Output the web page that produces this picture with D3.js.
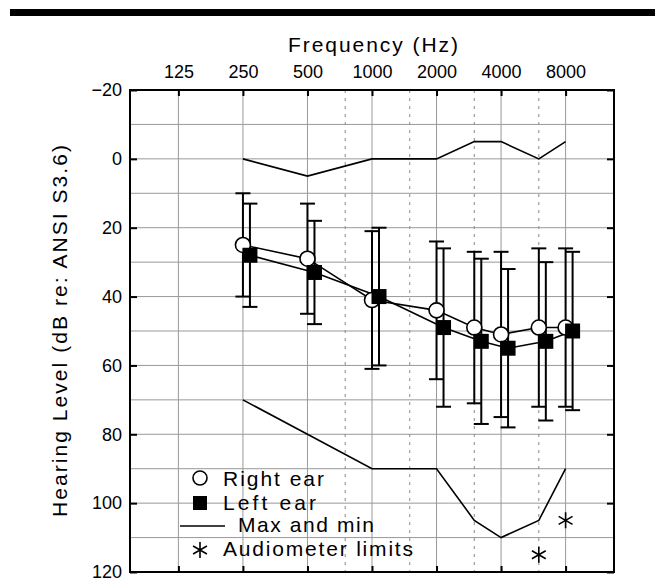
<!DOCTYPE html>
<html>
<head>
<meta charset="utf-8">
<script src="https://cdn.jsdelivr.net/npm/d3@7"></script>
<style>
    body { margin: 0; background: white; }
    text { font-family: "Liberation Sans", Arial, sans-serif; fill: black; }
</style>
</head>
<body>
<div id="audiogram"></div>
<script>

// frequencies used for the measurements
let freqs = [250, 500, 1000, 2000, 3000, 4000, 6000, 8000];

// right ear (open circles): mean and error bar ends
let rightMean = [25, 29, 41, 44, 49, 51, 49, 49];
let rightTop = [10, 13, 21, 24, 27, 27, 26, 26];
let rightBottom = [40, 45, 61, 64, 71, 75, 72, 72];

// left ear (filled squares)
let leftMean = [28, 33, 40, 49, 53, 55, 53, 50];
let leftTop = [13, 18, 20, 26, 29, 32, 30, 27];
let leftBottom = [43, 48, 60, 72, 77, 78, 76, 73];

// max and min lines
let minLine = [0, 5, 0, 0, -5, -5, 0, -5];
let maxLine = [70, 80, 90, 90, 105, 110, 105, 90];

// audiometer limits
let limitFreqs = [6000, 8000];
let limitLevels = [115, 105];

// axis ticks
let octaveTicks = [125, 250, 500, 1000, 2000, 4000, 8000];
let halfOctaveTicks = [750, 1500, 3000, 6000];
let levelTicks = [-20, 0, 20, 40, 60, 80, 100, 120];
let gridLevels = d3.range(-20, 121, 10);

// legend entries
let legendLabels = ["Right ear", "Left ear", "Max and min", "Audiometer limits"];

class AudiogramVis {

    constructor(parentElement) {
        this.parentElement = parentElement;
        this.initVis();
    }

    initVis () {
        let vis = this;

        vis.width = 655;
        vis.height = 587;
        vis.plot = {left: 130, right: 614, top: 90, bottom: 572};

        vis.svg = d3.select("#" + vis.parentElement).append("svg")
            .attr("width", vis.width)
            .attr("height", vis.height);

        // black rule at the very top
        vis.svg.append("rect")
            .attr("x", 10).attr("y", 9)
            .attr("width", vis.width - 10).attr("height", 7)
            .attr("fill", "black");

        // scales (log2 in frequency, 3/4 octave padding each side)
        vis.x = d3.scaleLog().base(2)
            .domain([125 / Math.pow(2, 0.75), 8000 * Math.pow(2, 0.75)])
            .range([vis.plot.left, vis.plot.right]);

        vis.y = d3.scaleLinear()
            .domain([-20, 120])
            .range([vis.plot.top, vis.plot.bottom]);

        vis.leftShift = 7;

        vis.drawGrid();
        vis.drawAxes();
        vis.updateVis();
        vis.drawLegend();
    }

    drawGrid () {
        let vis = this;

        vis.svg.append("g").selectAll("line.h-grid")
            .data(gridLevels)
            .enter().append("line")
            .attr("class", "h-grid")
            .attr("x1", vis.plot.left).attr("x2", vis.plot.right)
            .attr("y1", d => vis.y(d)).attr("y2", d => vis.y(d))
            .attr("stroke", "#999").attr("stroke-width", 1);

        vis.svg.append("g").selectAll("line.v-grid")
            .data(octaveTicks)
            .enter().append("line")
            .attr("class", "v-grid")
            .attr("x1", d => vis.x(d)).attr("x2", d => vis.x(d))
            .attr("y1", vis.plot.top).attr("y2", vis.plot.bottom)
            .attr("stroke", "#999").attr("stroke-width", 1);

        vis.svg.append("g").selectAll("line.v-dash")
            .data(halfOctaveTicks)
            .enter().append("line")
            .attr("class", "v-dash")
            .attr("x1", d => vis.x(d)).attr("x2", d => vis.x(d))
            .attr("y1", vis.plot.top).attr("y2", vis.plot.bottom)
            .attr("stroke", "#888").attr("stroke-width", 1)
            .attr("stroke-dasharray", "3,5");
    }

    drawAxes () {
        let vis = this;
        let fmt = d3.format("d");

        let styleAxis = (g) => {
            g.select(".domain").remove();
            g.selectAll(".tick line").attr("stroke", "black").attr("stroke-width", 2);
            g.selectAll(".tick text")
                .style("font-family", "Liberation Sans, Arial, sans-serif")
                .style("font-size", "18px")
                .attr("fill", "black");
        };

        vis.svg.append("g")
            .attr("transform", `translate(${vis.plot.left}, 0)`)
            .call(d3.axisLeft(vis.y).tickValues(levelTicks).tickSizeInner(-7).tickSizeOuter(0).tickPadding(8))
            .call(styleAxis);

        vis.svg.append("g")
            .attr("transform", `translate(${vis.plot.right}, 0)`)
            .call(d3.axisRight(vis.y).tickValues(levelTicks).tickSizeInner(-7).tickSizeOuter(0).tickFormat(""))
            .call(styleAxis);

        vis.svg.append("g")
            .attr("transform", `translate(0, ${vis.plot.top})`)
            .call(d3.axisTop(vis.x).tickValues(octaveTicks).tickFormat(fmt).tickSizeInner(-6).tickSizeOuter(0).tickPadding(12))
            .call(styleAxis);

        vis.svg.append("g")
            .attr("transform", `translate(0, ${vis.plot.bottom})`)
            .call(d3.axisBottom(vis.x).tickValues(octaveTicks).tickSizeInner(-6).tickSizeOuter(0).tickFormat(""))
            .call(styleAxis);

        // frame
        vis.svg.append("rect")
            .attr("x", vis.plot.left).attr("y", vis.plot.top)
            .attr("width", vis.plot.right - vis.plot.left)
            .attr("height", vis.plot.bottom - vis.plot.top)
            .attr("fill", "none").attr("stroke", "black").attr("stroke-width", 2);

        // axis titles
        vis.svg.append("text")
            .attr("x", 288).attr("y", 52)
            .attr("textLength", 170).attr("lengthAdjust", "spacing")
            .style("font-size", "21px")
            .text("Frequency (Hz)");

        vis.svg.append("text")
            .attr("transform", "translate(67, 517) rotate(-90)")
            .attr("textLength", 372).attr("lengthAdjust", "spacing")
            .style("font-size", "21px")
            .text("Hearing Level (dB re: ANSI S3.6)");
    }

    updateVis () {
        let vis = this;

        // max / min lines
        let line = d3.line().x(d => vis.x(d.f)).y(d => vis.y(d.v));
        [minLine, maxLine].forEach(arr => {
            vis.svg.append("path")
                .datum(freqs.map((f, i) => ({f: f, v: arr[i]})))
                .attr("d", line)
                .attr("fill", "none").attr("stroke", "black").attr("stroke-width", 1.6);
        });

        // ear series
        let series = [
            {name: "right", mean: rightMean, top: rightTop, bottom: rightBottom, shift: 0},
            {name: "left", mean: leftMean, top: leftTop, bottom: leftBottom, shift: vis.leftShift}
        ];

        series.forEach(s => {
            let pts = freqs.map((f, i) => ({
                x: vis.x(f) + s.shift, mean: s.mean[i], top: s.top[i], bottom: s.bottom[i]
            }));

            let g = vis.svg.append("g").attr("class", s.name + "-bars");

            g.selectAll("line.whisker").data(pts).enter().append("line")
                .attr("x1", d => d.x).attr("x2", d => d.x)
                .attr("y1", d => vis.y(d.top)).attr("y2", d => vis.y(d.bottom))
                .attr("stroke", "black").attr("stroke-width", 2);

            ["top", "bottom"].forEach(k => {
                g.selectAll("line.cap-" + k).data(pts).enter().append("line")
                    .attr("x1", d => d.x - 7.5).attr("x2", d => d.x + 7.5)
                    .attr("y1", d => vis.y(d[k])).attr("y2", d => vis.y(d[k]))
                    .attr("stroke", "black").attr("stroke-width", 2);
            });

            s.pts = pts;
        });

        // connecting lines
        let meanLine = d3.line().x(d => d.x).y(d => vis.y(d.mean));
        series.forEach(s => {
            vis.svg.append("path")
                .datum(s.pts)
                .attr("d", meanLine)
                .attr("fill", "none").attr("stroke", "black").attr("stroke-width", 1.6);
        });

        // markers
        vis.svg.append("g").selectAll("circle").data(series[0].pts).enter().append("circle")
            .attr("cx", d => d.x).attr("cy", d => vis.y(d.mean)).attr("r", 7.5)
            .attr("fill", "white").attr("stroke", "black").attr("stroke-width", 1.6);

        vis.svg.append("g").selectAll("rect").data(series[1].pts).enter().append("rect")
            .attr("x", d => d.x - 7.5).attr("y", d => vis.y(d.mean) - 7.5)
            .attr("width", 15).attr("height", 15)
            .attr("fill", "black");

        // audiometer limits
        vis.asterisk = d3.symbol().type(d3.symbolAsterisk).size(180);
        vis.svg.append("g").selectAll("path").data(limitFreqs).enter().append("path")
            .attr("d", vis.asterisk)
            .attr("transform", (d, i) => `translate(${vis.x(d)}, ${vis.y(limitLevels[i])})`)
            .attr("fill", "none").attr("stroke", "black").attr("stroke-width", 1.6);
    }

    drawLegend () {
        let vis = this;
        let g = vis.svg.append("g").attr("class", "legend");
        let markY = [478, 503, 526, 550];
        let baseY = [485.7, 509.5, 531.7, 555.7];
        let textX = [223, 223, 238, 223];
        let textLen = [101, 93, 136, 190];

        g.append("circle").attr("cx", 200).attr("cy", markY[0]).attr("r", 7)
            .attr("fill", "white").attr("stroke", "black").attr("stroke-width", 1.6);
        g.append("rect").attr("x", 193).attr("y", markY[1] - 7).attr("width", 14).attr("height", 14)
            .attr("fill", "black");
        g.append("line").attr("x1", 180).attr("x2", 225).attr("y1", markY[2]).attr("y2", markY[2])
            .attr("stroke", "black").attr("stroke-width", 1.6);
        g.append("path").attr("d", vis.asterisk)
            .attr("transform", `translate(200, ${markY[3]})`)
            .attr("fill", "none").attr("stroke", "black").attr("stroke-width", 1.6);

        g.selectAll("text").data(legendLabels).enter().append("text")
            .attr("x", (d, i) => textX[i])
            .attr("y", (d, i) => baseY[i])
            .attr("textLength", (d, i) => textLen[i]).attr("lengthAdjust", "spacing")
            .style("font-size", "21px")
            .text(d => d);
    }
}

let myAudiogram = new AudiogramVis("audiogram");

</script>
</body>
</html>
